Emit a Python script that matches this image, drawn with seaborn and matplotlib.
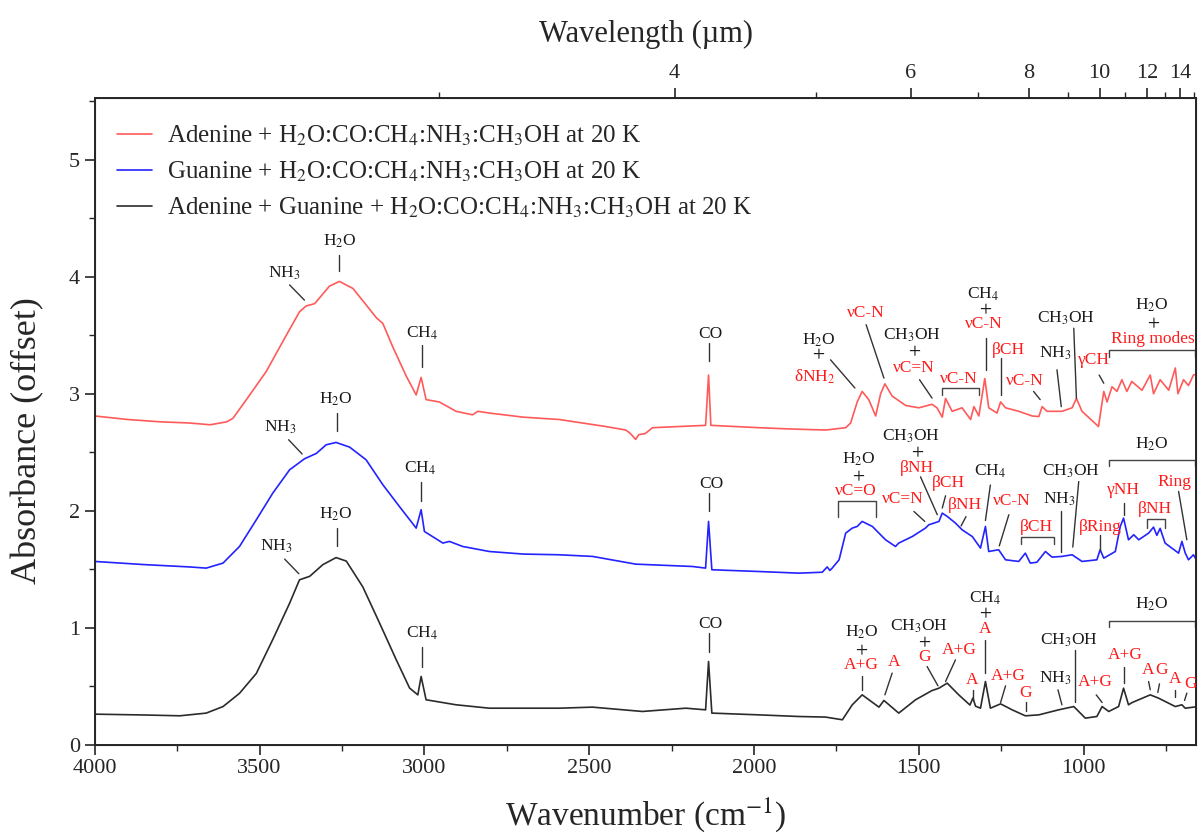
import pandas as pd
import seaborn as sns
import matplotlib.pyplot as plt
from matplotlib.ticker import MultipleLocator, FixedLocator, NullFormatter

# ---- spectra (wavenumber cm-1, offset absorbance) ----
adenine_wn = [4000, 3900, 3800, 3712, 3650, 3600, 3581, 3540, 3480, 3419, 3379, 3359, 3333,
              3288, 3258, 3217, 3177, 3146, 3126, 3096, 3055, 3025, 3010, 2995, 2955, 2904,
              2854, 2838, 2803, 2700, 2591, 2450, 2389, 2375, 2359, 2350, 2330, 2308, 2147,
              2138, 2131, 1985, 1900, 1783, 1722, 1707, 1687, 1672, 1652, 1631, 1616, 1603,
              1581, 1540, 1500, 1460, 1445, 1429, 1419, 1399, 1369, 1343, 1333, 1318, 1300,
              1288, 1263, 1252, 1237, 1197, 1156, 1136, 1126, 1111, 1066, 1035, 1022, 1005,
              955, 939, 929, 914, 899, 884, 869, 854, 823, 798, 788, 768, 742, 722, 714, 697,
              682, 667, 655]
adenine_abs = [2.81, 2.78, 2.76, 2.75, 2.735, 2.76, 2.79, 2.95, 3.19, 3.50, 3.70, 3.75, 3.77,
               3.92, 3.96, 3.90, 3.76, 3.65, 3.60, 3.40, 3.15, 2.99, 3.14, 2.95, 2.93, 2.85,
               2.82, 2.85, 2.835, 2.80, 2.78, 2.72, 2.69, 2.66, 2.61, 2.65, 2.66, 2.71, 2.73,
               3.16, 2.73, 2.71, 2.70, 2.69, 2.71, 2.75, 2.93, 3.02, 2.95, 2.81, 3.00, 3.085,
               2.98, 2.90, 2.88, 2.91, 2.88, 2.80, 2.96, 2.85, 2.88, 2.78, 2.89, 2.81, 3.13,
               2.88, 2.835, 2.93, 2.88, 2.85, 2.81, 2.805, 2.89, 2.85, 2.85, 2.88, 2.96, 2.85,
               2.72, 3.02, 2.93, 3.06, 3.02, 3.12, 3.02, 3.105, 3.03, 3.16, 3.00, 3.12, 3.03,
               3.22, 3.00, 3.12, 3.07, 3.16, 3.17]

guanine_wn = [4000, 3850, 3712, 3662, 3611, 3561, 3510, 3460, 3409, 3364, 3328, 3298, 3268,
              3227, 3177, 3126, 3076, 3025, 3010, 3000, 2944, 2924, 2884, 2803, 2700, 2591,
              2490, 2359, 2187, 2147, 2138, 2128, 1985, 1864, 1793, 1778, 1770, 1763, 1742,
              1722, 1702, 1687, 1672, 1641, 1601, 1571, 1561, 1520, 1480, 1470, 1439, 1429,
              1414, 1389, 1369, 1338, 1313, 1298, 1288, 1258, 1237, 1197, 1177, 1162, 1142,
              1116, 1096, 1066, 1035, 1005, 960, 950, 939, 904, 889, 879, 864, 848, 833, 803,
              788, 778, 768, 753, 712, 702, 692, 682, 667, 652]
guanine_abs = [1.567, 1.54, 1.52, 1.51, 1.553, 1.695, 1.923, 2.151, 2.35, 2.444, 2.49, 2.564,
               2.584, 2.544, 2.436, 2.222, 2.037, 1.852, 2.009, 1.823, 1.724, 1.738, 1.695,
               1.652, 1.63, 1.624, 1.61, 1.544, 1.524, 1.51, 1.909, 1.496, 1.481, 1.467, 1.475,
               1.52, 1.49, 1.51, 1.581, 1.809, 1.852, 1.866, 1.909, 1.866, 1.752, 1.695, 1.724,
               1.78, 1.852, 1.88, 1.909, 1.98, 1.952, 1.895, 1.838, 1.78, 1.681, 1.866, 1.652,
               1.667, 1.581, 1.567, 1.638, 1.553, 1.56, 1.652, 1.604, 1.61, 1.624, 1.567, 1.581,
               1.667, 1.595, 1.652, 1.866, 1.937, 1.752, 1.795, 1.752, 1.809, 1.86, 1.79, 1.85,
               1.724, 1.638, 1.738, 1.64, 1.581, 1.624, 1.553]

mix_wn = [4000, 3850, 3742, 3662, 3611, 3561, 3510, 3460, 3409, 3379, 3348, 3308, 3268, 3237,
          3187, 3136, 3086, 3045, 3020, 3010, 2995, 2904, 2803, 2591, 2490, 2339, 2207, 2147,
          2138, 2128, 1985, 1864, 1783, 1732, 1702, 1672, 1621, 1606, 1561, 1510, 1460, 1439,
          1414, 1379, 1345, 1336, 1328, 1313, 1298, 1283, 1252, 1217, 1177, 1136, 1076, 1030,
          995, 960, 944, 924, 894, 879, 864, 854, 798, 773, 722, 702, 692, 652]
mix_abs = [0.262, 0.255, 0.248, 0.271, 0.327, 0.44, 0.61, 0.90, 1.21, 1.41, 1.44, 1.54, 1.60,
           1.57, 1.35, 1.04, 0.73, 0.485, 0.427, 0.584, 0.385, 0.342, 0.313, 0.313, 0.322,
           0.285, 0.313, 0.299, 0.712, 0.271, 0.256, 0.242, 0.237, 0.214, 0.342, 0.427, 0.322,
           0.379, 0.271, 0.385, 0.464, 0.484, 0.527, 0.427, 0.34, 0.40, 0.33, 0.313, 0.541,
           0.313, 0.35, 0.299, 0.248, 0.256, 0.299, 0.327, 0.228, 0.242, 0.327, 0.285, 0.327,
           0.484, 0.342, 0.36, 0.427, 0.399, 0.327, 0.342, 0.313, 0.327]

series_names = ['Adenine + H$_2$O:CO:CH$_4$:NH$_3$:CH$_3$OH at 20 K',
                'Guanine + H$_2$O:CO:CH$_4$:NH$_3$:CH$_3$OH at 20 K',
                'Adenine + Guanine + H$_2$O:CO:CH$_4$:NH$_3$:CH$_3$OH at 20 K']
series_colors = ['#ff5a5a', '#2323ff', '#2b2b2b']

micron_major = [4, 6, 8, 10, 12, 14]
micron_minor = [3, 5, 7, 9, 11, 13, 15]

K = '#1a1a1a'
R = '#ff1a1a'
P = '$+$'

# band labels: (wavenumber, y, text, colour)
band_texts = [
    (3424, 4.03, 'NH$_3$', K), (3258, 4.30, 'H$_2$O', K), (3007, 3.52, 'CH$_4$', K),
    (2131, 3.51, 'CO', K),
    (3437, 2.71, 'NH$_3$', K), (3268, 2.955, 'H$_2$O', K), (3012, 2.365, 'CH$_4$', K),
    (2129, 2.228, 'CO', K),
    (3448, 1.695, 'NH$_3$', K), (3268, 1.966, 'H$_2$O', K), (3007, 0.955, 'CH$_4$', K),
    (2131, 1.034, 'CO', K),
    # adenine
    (1805, 3.46, 'H$_2$O', K), (1805, 3.335, P, K), (1815, 3.148, 'δNH$_2$', R),
    (1660, 3.69, 'νC-N', R),
    (1522, 3.50, 'CH$_3$OH', K), (1512, 3.36, P, K), (1515, 3.22, 'νC=N', R),
    (1379, 3.125, 'νC-N', R),
    (1306, 3.85, 'CH$_4$', K), (1298, 3.725, P, K), (1303, 3.595, 'νC-N', R),
    (1227, 3.376, 'βCH', R), (1177, 3.105, 'νC-N', R), (1086, 3.35, 'NH$_3$', K),
    (1055, 3.646, 'CH$_3$OH', K), (970, 3.29, 'γCH', R),
    (793, 3.76, 'H$_2$O', K), (788, 3.60, P, K), (790, 3.467, 'Ring modes', R),
    # guanine
    (1682, 2.436, 'H$_2$O', K), (1684, 2.298, P, K), (1690, 2.17, 'νC=O', R),
    (1525, 2.64, 'CH$_3$OH', K), (1505, 2.50, P, K), (1505, 2.365, 'βNH', R),
    (1548, 2.10, 'νC=N', R), (1409, 2.237, 'βCH', R), (1359, 2.05, 'βNH', R),
    (1283, 2.336, 'CH$_4$', K), (1217, 2.08, 'νC-N', R), (1142, 1.86, 'βCH', R),
    (1074, 2.094, 'NH$_3$', K), (1040, 2.336, 'CH$_3$OH', K), (950, 1.86, 'βRing', R),
    (793, 2.564, 'H$_2$O', K), (879, 2.18, 'γNH', R), (785, 2.014, 'βNH', R),
    (724, 2.25, 'Ring', R),
    # mixture
    (1672, 0.96, 'H$_2$O', K), (1674, 0.81, P, K), (1674, 0.68, 'A+G', R),
    (1576, 0.712, 'A', R),
    (1500, 1.015, 'CH$_3$OH', K), (1482, 0.88, P, K), (1482, 0.748, 'G', R),
    (1377, 0.812, 'A+G', R),
    (1298, 1.255, 'CH$_4$', K), (1298, 1.12, P, K), (1298, 0.987, 'A', R),
    (1338, 0.556, 'A', R), (1229, 0.584, 'A+G', R), (1175, 0.442, 'G', R),
    (1086, 0.57, 'NH$_3$', K), (1045, 0.897, 'CH$_3$OH', K), (965, 0.541, 'A+G', R),
    (793, 1.197, 'H$_2$O', K), (874, 0.769, 'A+G', R), (805, 0.641, 'A', R),
    (763, 0.641, 'G', R), (722, 0.561, 'A', R), (677, 0.521, 'G', R),
]

# leader lines: (wn0, y0, wn1, y1)
leader_lines = [
    (3409, 3.93, 3364, 3.80), (3258, 4.19, 3258, 4.05), (3007, 3.42, 3007, 3.23),
    (2136, 3.433, 2136, 3.276),
    (3412, 2.607, 3371, 2.485), (3265, 2.835, 3265, 2.686), (3010, 2.25, 3010, 2.08),
    (2136, 2.151, 2136, 1.994),
    (3424, 1.587, 3381, 1.462), (3265, 1.852, 3265, 1.695), (3007, 0.84, 3007, 0.669),
    (2136, 0.955, 2136, 0.797),
    (1768, 3.29, 1694, 3.049), (1660, 3.59, 1606, 3.134), (1498, 3.12, 1460, 2.963),
    (1296, 3.476, 1296, 3.20), (1252, 3.305, 1252, 2.99), (1152, 3.02, 1132, 2.95),
    (1081, 3.205, 1068, 2.89), (1030, 3.56, 1022, 2.96), (953, 3.16, 939, 3.09),
    (1495, 2.29, 1444, 1.966), (1515, 1.994, 1482, 1.909), (1419, 2.128, 1429, 2.023),
    (1357, 1.95, 1372, 1.87), (1283, 2.22, 1298, 1.917), (1227, 1.966, 1256, 1.70),
    (1068, 1.994, 1068, 1.652), (1015, 2.25, 1033, 1.69), (950, 1.795, 950, 1.667),
    (879, 2.066, 879, 1.966), (712, 2.165, 687, 1.752),
    (1672, 0.584, 1672, 0.47), (1581, 0.613, 1603, 0.427), (1475, 0.669, 1442, 0.504),
    (1389, 0.726, 1419, 0.541), (1298, 0.9, 1298, 0.613), (1336, 0.47, 1336, 0.385),
    (1237, 0.504, 1252, 0.362), (1175, 0.37, 1175, 0.285), (1078, 0.47, 1066, 0.342),
    (1027, 0.812, 1027, 0.362), (962, 0.427, 944, 0.362), (879, 0.664, 879, 0.532),
    (803, 0.541, 798, 0.47), (770, 0.521, 775, 0.447), (722, 0.47, 722, 0.408),
    (687, 0.442, 694, 0.379),
]

# brackets: (wn_left, wn_right, y, drop)
brackets = [
    (1431, 1318, 3.049, 0.06), (924, 662, 3.376, 0.066),
    (1745, 1630, 2.08, 0.13), (1189, 1091, 1.775, 0.057), (924, 662, 2.436, 0.057),
    (808, 754, 1.929, 0.077),
    (924, 662, 1.062, 0.057),
]

sns.set_style('ticks')
plt.rcParams['font.family'] = ['Liberation Serif', 'DejaVu Serif']
plt.rcParams['mathtext.fontset'] = 'stix'

frames = []
for name, wn, ab in zip(series_names, [adenine_wn, guanine_wn, mix_wn],
                        [adenine_abs, guanine_abs, mix_abs]):
    frames.append(pd.DataFrame({'Wavenumber': wn, 'Absorbance': ab, 'Sample': name}))
data = pd.concat(frames, ignore_index=True)

fig = plt.figure(figsize=(12, 8.35), dpi=100)
ax = fig.add_axes([0.079, 0.108, 0.918, 0.775])
sns.lineplot(data=data, x='Wavenumber', y='Absorbance', hue='Sample',
             palette=dict(zip(series_names, series_colors)), sort=False,
             estimator=None, linewidth=1.2, ax=ax)

ax.set_xlim(4000, 658)
ax.set_ylim(0, 5.53)
ax.xaxis.set_major_locator(MultipleLocator(500))
ax.xaxis.set_minor_locator(MultipleLocator(250))
ax.yaxis.set_major_locator(MultipleLocator(1))
ax.yaxis.set_minor_locator(MultipleLocator(0.5))
ax.tick_params(which='major', length=7, width=1.2, labelsize=16, direction='out')
ax.tick_params(which='minor', length=4, width=1.0, direction='out')
ax.set_xlabel('Wavenumber (cm$^{-1}$)', fontsize=24, labelpad=12)
ax.set_ylabel('Absorbance (offset)', fontsize=26)
ax.yaxis.set_label_coords(-0.046, 0.47)
for sp in ax.spines.values():
    sp.set_visible(True)
    sp.set_linewidth(1.4)

handles, labels = ax.get_legend_handles_labels()
ax.legend(handles, labels, frameon=False, loc='upper left', bbox_to_anchor=(0.0, 0.995),
          fontsize=18, handlelength=1.4, handletextpad=0.6, labelspacing=0.48)

top = ax.twiny()
top.set_xlim(4547, 658)
top.xaxis.set_major_locator(FixedLocator([10000 / m for m in micron_major]))
top.xaxis.set_minor_locator(FixedLocator([10000 / m for m in micron_minor]))
top.set_xticklabels([str(m) for m in micron_major])
top.xaxis.set_minor_formatter(NullFormatter())
top.tick_params(which='major', length=7, width=1.2, labelsize=16, direction='out')
top.tick_params(which='minor', length=4, width=1.0, direction='out')
top.set_xlabel('Wavelength (µm)', fontsize=22, labelpad=16)

for wn, y, s, c in band_texts:
    ax.text(wn, y, s, color=c, fontsize=12.5, ha='center', va='center', clip_on=False)
for x0, y0, x1, y1 in leader_lines:
    ax.plot([x0, x1], [y0, y1], color='#333333', lw=1.0)
for xl, xr, y, d in brackets:
    ax.plot([xl, xl, xr, xr], [y - d, y, y, y - d], color='#444444', lw=1.0)

fig.savefig('out.png', dpi=100)
